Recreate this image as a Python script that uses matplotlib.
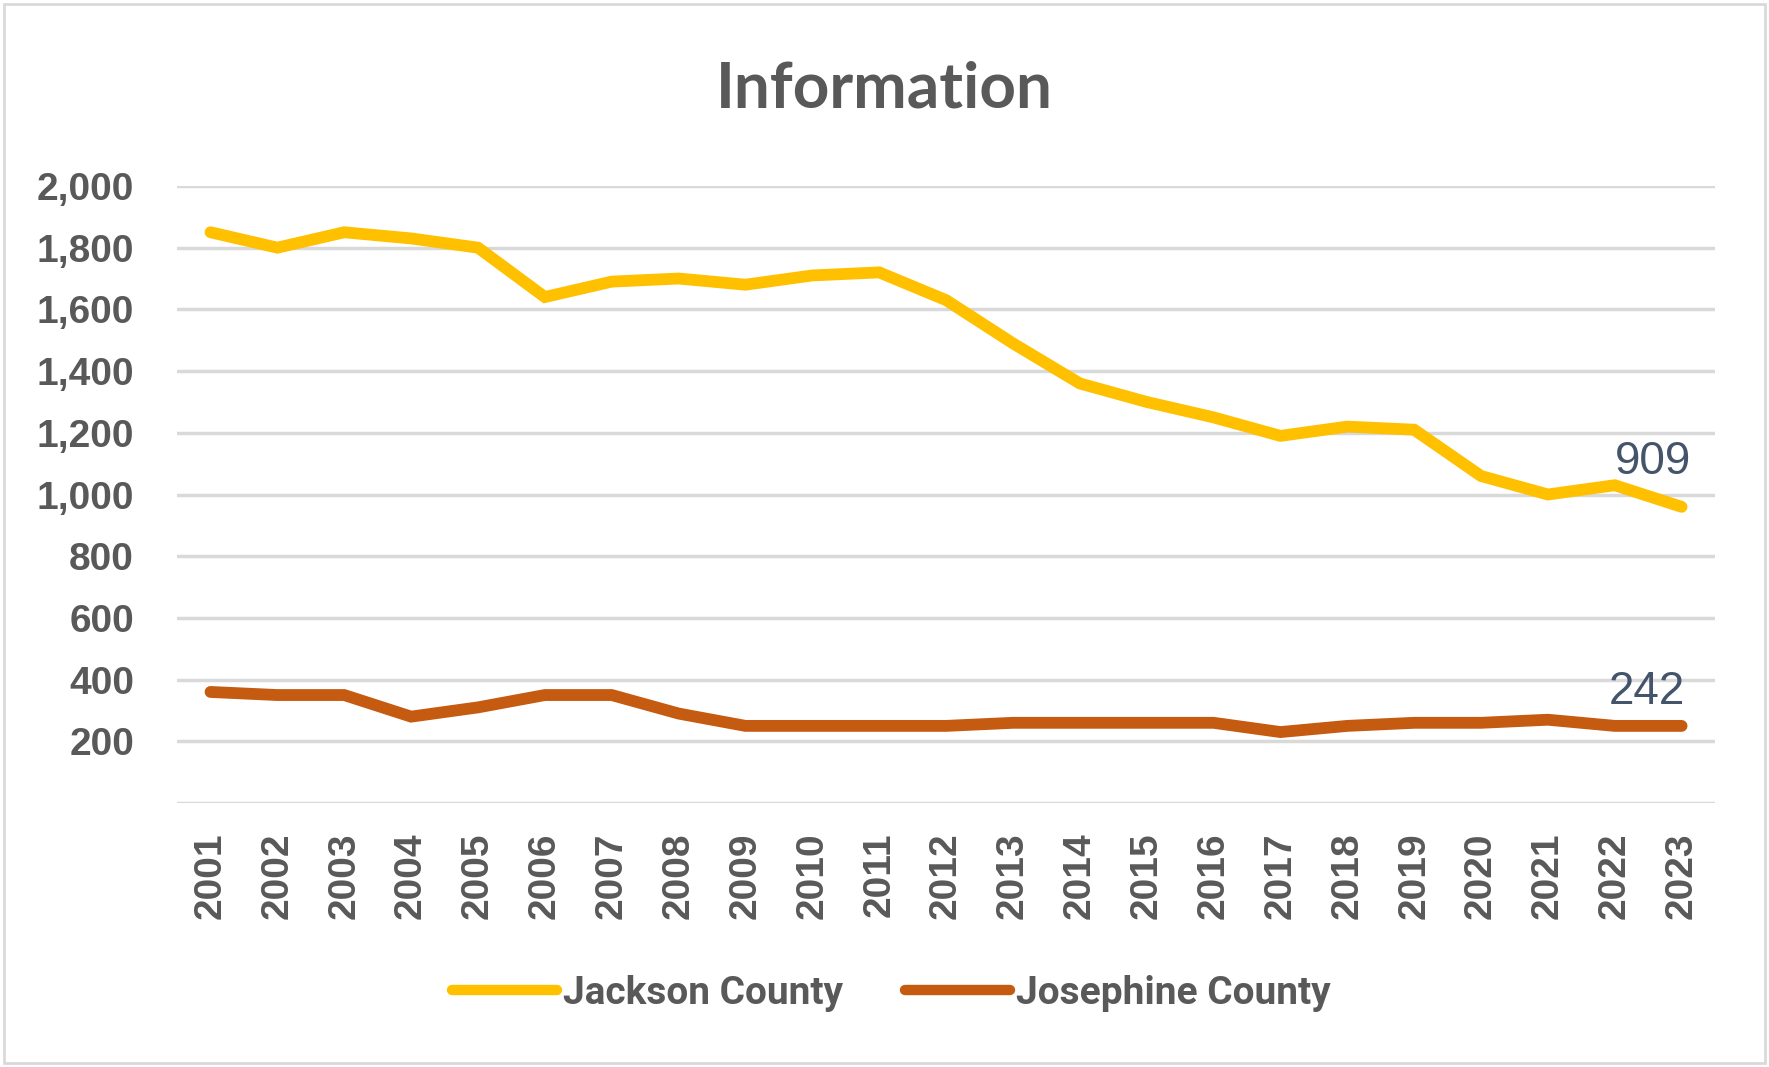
import matplotlib
matplotlib.use("Agg")
import matplotlib.pyplot as plt
from matplotlib.patches import Rectangle

years = [str(y) for y in range(2001, 2024)]
jackson = [1850, 1800, 1850, 1830, 1800, 1640, 1690, 1700, 1680, 1710, 1720,
           1630, 1490, 1360, 1300, 1250, 1190, 1220, 1210, 1060, 1000, 1030, 960]
josephine = [360, 350, 350, 280, 310, 350, 350, 290, 250, 250, 250,
             250, 260, 260, 260, 260, 230, 250, 260, 260, 270, 250, 250]
end_labels = {"Jackson County": "909", "Josephine County": "242"}
y_ticks = [0, 200, 400, 600, 800, 1000, 1200, 1400, 1600, 1800, 2000]

GRAY = "#595959"
GRID = "#D9D9D9"
LABEL = "#44546A"
colors = {"Jackson County": "#FFC000", "Josephine County": "#C55A11"}

fig = plt.figure(figsize=(17.69, 10.67), dpi=100)
ax = fig.add_axes([0.1001, 0.2474, 0.8694, 0.5783])

x = list(range(len(years)))
series = {"Jackson County": jackson, "Josephine County": josephine}
offsets = {"Jackson County": (-29, 45), "Josephine County": (-35, 34)}
for name, vals in series.items():
    ax.plot(x, vals, color=colors[name], lw=8.5, solid_capstyle="round",
            solid_joinstyle="miter", label=name, zorder=3)
    ax.annotate(end_labels[name], (x[-1], vals[-1]), xytext=offsets[name],
                textcoords="offset pixels", ha="center", va="center",
                fontsize=33, color=LABEL, family=["Liberation Sans", "DejaVu Sans"])

ax.set_xlim(-0.5, len(years) - 0.5)
ax.set_ylim(0, 2000)
ax.set_yticks(y_ticks)
ax.set_yticklabels(["" if v == 0 else f"{v:,}" for v in y_ticks])
ax.set_xticks(x)
ax.set_xticklabels(years, rotation=90)
for lab in ax.get_xticklabels() + ax.get_yticklabels():
    lab.set_fontfamily(["Liberation Sans", "DejaVu Sans"])
    lab.set_fontweight("bold")
    lab.set_fontsize(28)
    lab.set_color(GRAY)
ax.tick_params(axis="y", length=0, pad=31)
ax.tick_params(axis="x", length=0, pad=21)
ax.grid(axis="y", color=GRID, lw=2.5, zorder=0)
ax.set_axisbelow(True)
for sp in ax.spines.values():
    sp.set_visible(False)

fig.text(0.5, 0.917, "Information", ha="center", va="center", fontsize=46,
         fontweight="bold", color=GRAY, family=["Lato", "DejaVu Sans"])

leg = fig.legend(loc="center", bbox_to_anchor=(0.504, 1 - 993 / 1067), ncol=2,
                 frameon=False, handlelength=2.7, handletextpad=0.15,
                 columnspacing=1.6,
                 prop={"family": ["Roboto", "DejaVu Sans"],
                       "weight": "bold", "size": 28})
for t in leg.get_texts():
    t.set_color(GRAY)
for h in leg.get_lines():
    h.set_linewidth(7.5)
    h.set_solid_capstyle("round")

fig.patches.append(Rectangle((0.0025, 0.0035), 0.995, 0.993, transform=fig.transFigure,
                             fill=False, edgecolor=GRID, lw=2))

fig.savefig("out.png", dpi=100)
